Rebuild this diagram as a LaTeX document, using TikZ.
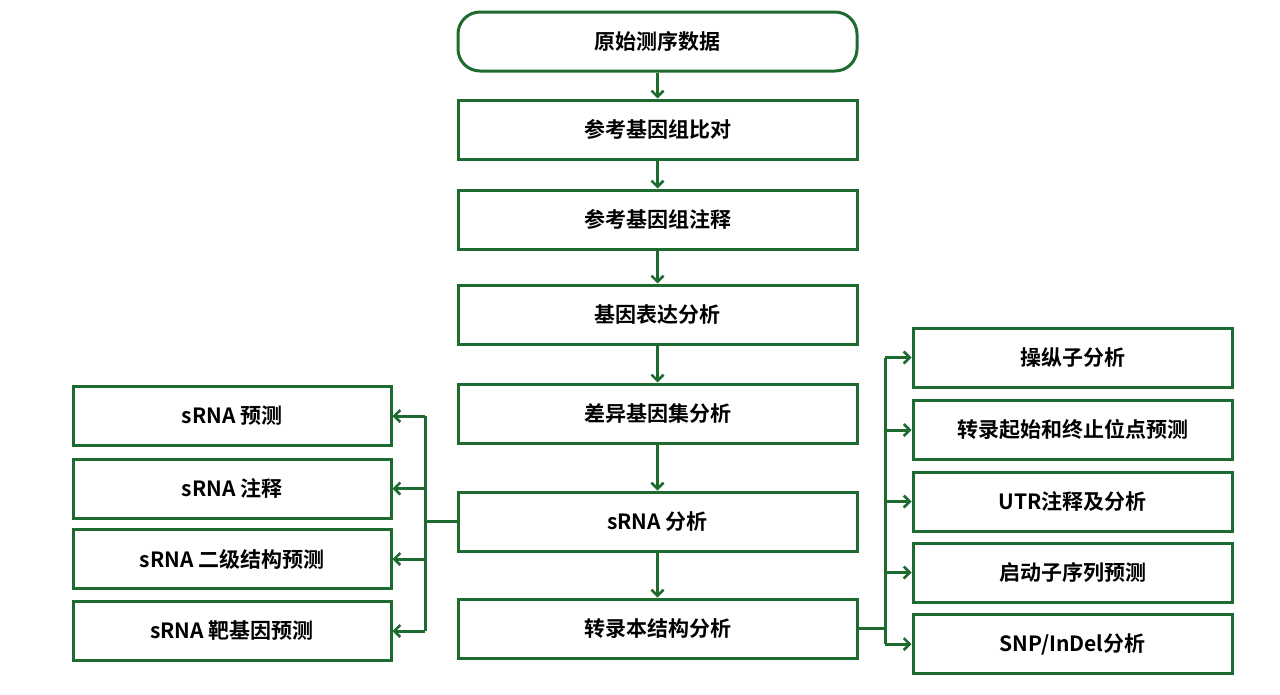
\documentclass[tikz,border=0pt]{standalone}
\usepackage{fontspec}
\setmainfont{Noto Sans CJK SC Bold}
\usetikzlibrary{arrows.meta}
\definecolor{dg}{HTML}{1E6B30}
\tikzset{
  box/.style={draw=dg,line width=3pt,minimum width=#1,minimum height=59pt,inner sep=0pt,font=\fontsize{21}{25}\selectfont,text=black},
  box/.default=399pt,
  arr/.style={draw=dg,line width=3pt,-{Straight Barb[length=6pt,width=12pt,line width=2.5pt]}},
  ln/.style={draw=dg,line width=3pt}
}
\begin{document}
\begin{tikzpicture}[x=1pt,y=-1pt]
\useasboundingbox (0,0) rectangle (1280,694);
\node[box,rounded corners=22pt] (a) at (657.5,41.5) {原始测序数据};
\node[box] (b) at (657.5,129.5) {参考基因组比对};
\node[box] (c) at (657.5,219.5) {参考基因组注释};
\node[box] (d) at (657.5,314.5) {基因表达分析};
\node[box] (e) at (657.5,413.5) {差异基因集分析};
\node[box] (f) at (657.5,521.5) {sRNA 分析};
\node[box] (g) at (657.5,628.5) {转录本结构分析};
\foreach \u/\v in {a/b,b/c,c/d,d/e,e/f,f/g} \draw[arr] (\u.south) -- (\v.north);
\node[box=318pt] (l1) at (232,416) {sRNA 预测};
\node[box=318pt] (l2) at (232,488.5) {sRNA 注释};
\node[box=318pt] (l3) at (232,559) {sRNA 二级结构预测};
\node[box=318pt] (l4) at (232,631) {sRNA 靶基因预测};
\coordinate (lj) at (425,521.5);
\draw[ln] (f.west) -- (lj);
\draw[ln] (425,416) -- (425,631);
\foreach \n in {l1,l2,l3,l4} \draw[arr] (lj |- \n.east) -- (\n.east);
\node[box=319pt] (r1) at (1072.5,357.5) {操纵子分析};
\node[box=319pt] (r2) at (1072.5,430) {转录起始和终止位点预测};
\node[box=319pt] (r3) at (1072.5,501.5) {UTR注释及分析};
\node[box=319pt] (r4) at (1072.5,572.5) {启动子序列预测};
\node[box=319pt] (r5) at (1072.5,644) {SNP/InDel分析};
\coordinate (rj) at (885,628.5);
\draw[ln] (g.east) -- (rj);
\draw[ln] (885,357.5) -- (885,644);
\foreach \n in {r1,r2,r3,r4,r5} \draw[arr] (rj |- \n.west) -- (\n.west);
\end{tikzpicture}
\end{document}
